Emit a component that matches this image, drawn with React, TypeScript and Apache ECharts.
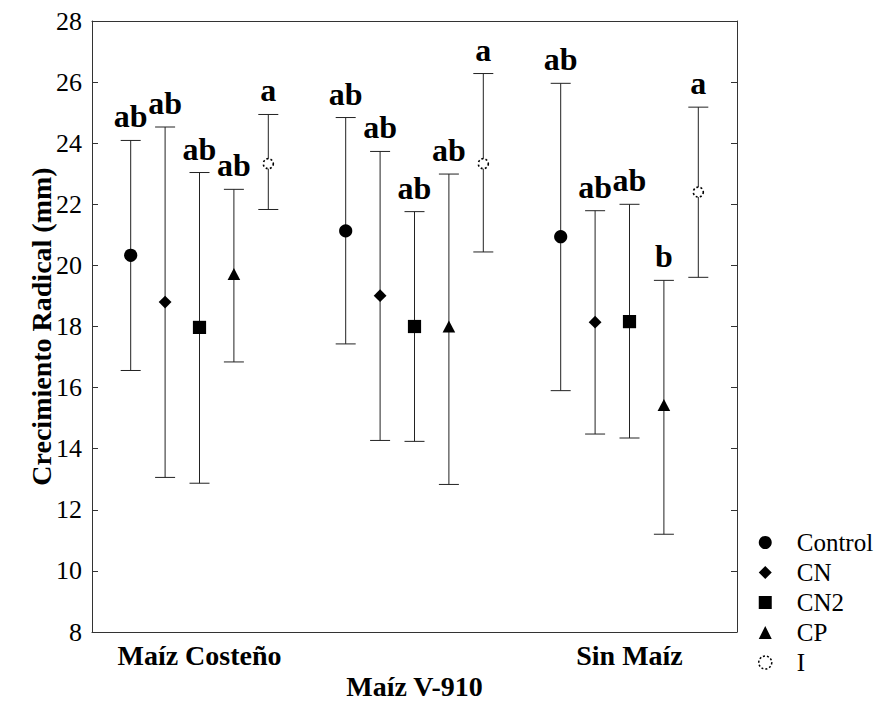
import React, { useEffect, useRef } from "react";
import * as echarts from "echarts";

const categories = ["Maíz Costeño", "Maíz V-910", "Sin Maíz"];
const treatments = ["Control", "CN", "CN2", "CP", "I"];

const controlMean = [20.33, 21.13, 20.94];
const controlLow = [16.56, 17.43, 15.9];
const controlHigh = [24.09, 24.84, 25.96];
const controlLetters = ["ab", "ab", "ab"];

const cnMean = [18.8, 19.01, 18.14];
const cnLow = [13.06, 14.27, 14.48];
const cnHigh = [24.53, 23.73, 21.79];
const cnLetters = ["ab", "ab", "ab"];

const cn2Mean = [17.97, 18.0, 18.16];
const cn2Low = [12.87, 14.24, 14.35];
const cn2High = [23.04, 21.76, 22.0];
const cn2Letters = ["ab", "ab", "ab"];

const cpMean = [19.67, 17.95, 15.38];
const cpLow = [16.84, 12.83, 11.2];
const cpHigh = [22.49, 22.99, 19.51];
const cpLetters = ["ab", "ab", "b"];

const iMean = [23.33, 23.33, 22.4];
const iLow = [21.83, 20.44, 19.61];
const iHigh = [24.94, 26.28, 25.18];
const iLetters = ["a", "a", "a"];

const yTicks = [8, 10, 12, 14, 16, 18, 20, 22, 24, 26, 28];

const seriesData = [
  { mean: controlMean, low: controlLow, high: controlHigh, letters: controlLetters },
  { mean: cnMean, low: cnLow, high: cnHigh, letters: cnLetters },
  { mean: cn2Mean, low: cn2Low, high: cn2High, letters: cn2Letters },
  { mean: cpMean, low: cpLow, high: cpHigh, letters: cpLetters },
  { mean: iMean, low: iLow, high: iHigh, letters: iLetters },
];

const FONT = "'Times New Roman', 'Liberation Serif', Tinos, 'DejaVu Serif', serif";
const LINE = "#222";

function markerFor(k: number, x: number, y: number) {
  const s = 6.6;
  if (k === 0) {
    return { type: "circle", shape: { cx: x, cy: y, r: s }, style: { fill: "#000" } };
  }
  if (k === 1) {
    const d = 6.4;
    return {
      type: "polygon",
      shape: { points: [[x, y - d], [x + d, y], [x, y + d], [x - d, y]] },
      style: { fill: "#000" },
    };
  }
  if (k === 2) {
    return { type: "rect", shape: { x: x - s, y: y - s, width: 2 * s, height: 2 * s }, style: { fill: "#000" } };
  }
  if (k === 3) {
    return {
      type: "polygon",
      shape: { points: [[x, y - 7.5], [x + 6.3, y + 4.5], [x - 6.3, y + 4.5]] },
      style: { fill: "#000" },
    };
  }
  return {
    type: "circle",
    shape: { cx: x, cy: y, r: 5 },
    style: { fill: "#fff", stroke: "#000", lineWidth: 1.6, lineDash: [2, 2.2] },
  };
}

export default function App() {
  const ref = useRef<HTMLDivElement>(null);
  useEffect(() => {
    if (!ref.current) return;
    const chart = echarts.init(ref.current, null, { renderer: "svg" });

    const series = treatments.map((name, k) => {
      const sd = seriesData[k];
      return {
        name,
        type: "custom",
        itemStyle: { color: "#000" },
        data: categories.map((_, i) => [i, sd.mean[i], sd.low[i], sd.high[i]]),
        encode: { x: 0, y: [1, 2, 3] },
        renderItem: (params: any, api: any) => {
          const i = api.value(0);
          const band = api.size([1, 0])[0];
          const off = (k - 2) * band * 0.16;
          const pm = api.coord([i, api.value(1)]);
          const pl = api.coord([i, api.value(2)]);
          const ph = api.coord([i, api.value(3)]);
          const x = pm[0] + off;
          const cap = 10;
          return {
            type: "group",
            children: [
              { type: "line", shape: { x1: x, y1: ph[1], x2: x, y2: pl[1] }, style: { stroke: LINE, lineWidth: 1 } },
              { type: "line", shape: { x1: x - cap, y1: ph[1], x2: x + cap, y2: ph[1] }, style: { stroke: LINE, lineWidth: 1 } },
              { type: "line", shape: { x1: x - cap, y1: pl[1], x2: x + cap, y2: pl[1] }, style: { stroke: LINE, lineWidth: 1 } },
              markerFor(k, x, pm[1]),
              {
                type: "text",
                x: x,
                y: ph[1] - 8,
                style: {
                  text: sd.letters[params.dataIndex],
                  align: "center",
                  verticalAlign: "bottom",
                  fontFamily: FONT,
                  fontWeight: "bold",
                  fontSize: 32,
                  fill: "#000",
                },
              },
            ],
          };
        },
      };
    });

    const icons = ["circle", "diamond", "rect", "triangle", "circle"];

    chart.setOption({
      animation: false,
      backgroundColor: "#fff",
      textStyle: { fontFamily: FONT },
      grid: { left: 92, top: 21, right: 141, bottom: 71, containLabel: false },
      legend: {
        orient: "vertical",
        left: 758,
        top: 530,
        padding: 0,
        itemGap: 5,
        itemWidth: 13,
        itemHeight: 13,
        selectedMode: false,
        textStyle: { fontFamily: FONT, fontSize: 25, lineHeight: 25, color: "#000", padding: [0, 0, 0, 20] },
        data: treatments.map((name, k) =>
          k === 4
            ? {
                name,
                icon: "circle",
                itemStyle: { color: "#fff", borderColor: "#000", borderWidth: 1.5, borderType: [2, 2] },
              }
            : { name, icon: icons[k], itemStyle: { color: "#000" } }
        ),
      },
      xAxis: [
        {
          type: "category",
          data: categories,
          position: "bottom",
          axisLine: { lineStyle: { color: "#333", width: 1 } },
          axisTick: { inside: true, alignWithLabel: true, length: 5, lineStyle: { color: "#333" } },
          axisLabel: {
            fontFamily: FONT,
            fontWeight: "bold",
            fontSize: 28,
            color: "#000",
            margin: 8,
            lineHeight: 31,
            formatter: (v: string, idx: number) => (idx === 1 ? "\n" + v : v),
          },
          splitLine: { show: false },
        },
        {
          type: "category",
          data: categories,
          position: "top",
          axisLine: { lineStyle: { color: "#333", width: 1 } },
          axisTick: { inside: true, alignWithLabel: true, length: 5, lineStyle: { color: "#333" } },
          axisLabel: { show: false },
          splitLine: { show: false },
        },
      ],
      yAxis: [
        {
          type: "value",
          min: yTicks[0],
          max: yTicks[yTicks.length - 1],
          interval: 2,
          position: "left",
          name: "Crecimiento Radical (mm)",
          nameLocation: "middle",
          nameRotate: 90,
          nameGap: 37,
          nameMoveOverlap: false,
          nameTextStyle: { fontFamily: FONT, fontWeight: "bold", fontSize: 28, color: "#000" },
          axisLine: { show: true, lineStyle: { color: "#333", width: 1 } },
          axisTick: { show: true, inside: true, length: 6, lineStyle: { color: "#333" } },
          axisLabel: { fontFamily: FONT, fontSize: 26, color: "#000", margin: 10 },
          splitLine: { show: false },
        },
        {
          type: "value",
          min: yTicks[0],
          max: yTicks[yTicks.length - 1],
          interval: 2,
          position: "right",
          axisLine: { show: true, lineStyle: { color: "#333", width: 1 } },
          axisTick: { show: true, inside: true, length: 6, lineStyle: { color: "#333" } },
          axisLabel: { show: false },
          splitLine: { show: false },
        },
      ],
      series,
    });
    return () => chart.dispose();
  }, []);
  return (
    <div
      ref={ref}
      style={{ position: "fixed", left: 0, top: 0, width: 878, height: 703, background: "#fff" }}
    />
  );
}
